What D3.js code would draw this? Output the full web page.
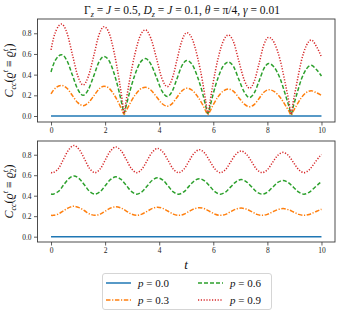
<!DOCTYPE html>
<html><head><meta charset="utf-8">
<script src="https://cdn.jsdelivr.net/npm/d3@7"></script>
<style>body{margin:0;background:#fff} text{font-family:"Liberation Serif","DejaVu Serif",serif}</style>
</head><body><svg id="c" width="342" height="316"></svg>
<script>
const seriesLabels = ["0.0", "0.3", "0.6", "0.9"];
const xTicks = [0, 2, 4, 6, 8, 10];
const yTicks = [0, 0.2, 0.4, 0.6, 0.8];

// flat p = 0 series
const tFlat = [0, 10];
const flatP00 = [0, 0];

// top panel (rho_1)
const tTop = [0, 0.1, 0.2, 0.39, 0.59, 0.79, 0.99, 1.19, 1.38, 1.58, 1.77, 1.96, 2.15, 2.33, 2.52, 2.63, 2.70, 2.78, 2.90, 3.10, 3.29, 3.49, 3.69, 3.90, 4.10, 4.30, 4.48, 4.66, 4.84, 5.02, 5.22, 5.41, 5.61, 5.72, 5.80, 5.88, 5.99, 6.18, 6.37, 6.56, 6.76, 6.95, 7.15, 7.34, 7.52, 7.70, 7.87, 8.05, 8.26, 8.47, 8.67, 8.80, 8.88, 8.95, 9.07, 9.25, 9.44, 9.62, 9.81, 10];
const topP03 = [0.213, 0.253, 0.278, 0.296, 0.268, 0.198, 0.129, 0.100, 0.128, 0.194, 0.260, 0.288, 0.267, 0.206, 0.116, 0.053, 0.015, 0.051, 0.112, 0.199, 0.257, 0.278, 0.251, 0.186, 0.121, 0.095, 0.120, 0.182, 0.243, 0.269, 0.249, 0.192, 0.107, 0.048, 0.012, 0.047, 0.105, 0.187, 0.242, 0.261, 0.236, 0.175, 0.115, 0.089, 0.113, 0.172, 0.230, 0.254, 0.235, 0.181, 0.101, 0.045, 0.010, 0.043, 0.098, 0.175, 0.227, 0.245, 0.225, 0.200];
const topP06 = [0.426, 0.506, 0.555, 0.593, 0.535, 0.396, 0.257, 0.200, 0.255, 0.388, 0.521, 0.576, 0.533, 0.413, 0.232, 0.105, 0.030, 0.102, 0.224, 0.398, 0.514, 0.555, 0.502, 0.372, 0.242, 0.189, 0.240, 0.363, 0.486, 0.537, 0.497, 0.384, 0.215, 0.097, 0.025, 0.094, 0.209, 0.373, 0.484, 0.522, 0.472, 0.350, 0.229, 0.179, 0.227, 0.343, 0.459, 0.507, 0.469, 0.362, 0.202, 0.089, 0.020, 0.086, 0.195, 0.350, 0.454, 0.490, 0.450, 0.387];
const topP09 = [0.639, 0.759, 0.833, 0.889, 0.803, 0.594, 0.386, 0.300, 0.383, 0.582, 0.781, 0.864, 0.800, 0.619, 0.347, 0.158, 0.027, 0.153, 0.336, 0.597, 0.771, 0.833, 0.752, 0.558, 0.364, 0.284, 0.360, 0.545, 0.729, 0.806, 0.746, 0.576, 0.322, 0.145, 0.023, 0.141, 0.314, 0.560, 0.725, 0.783, 0.708, 0.526, 0.344, 0.268, 0.340, 0.515, 0.689, 0.761, 0.704, 0.543, 0.302, 0.134, 0.018, 0.130, 0.293, 0.526, 0.680, 0.735, 0.675, 0.570];

// bottom panel (rho_2)
const tBot = [0, 0.08, 0.27, 0.465, 0.66, 0.85, 1.04, 1.24, 1.43, 1.625, 1.82, 2.01, 2.205, 2.40, 2.59, 2.785, 2.98, 3.17, 3.36, 3.555, 3.75, 3.94, 4.135, 4.33, 4.52, 4.715, 4.91, 5.10, 5.295, 5.49, 5.68, 5.875, 6.07, 6.26, 6.455, 6.645, 6.84, 7.03, 7.225, 7.42, 7.61, 7.805, 8.0, 8.19, 8.385, 8.58, 8.77, 8.965, 9.16, 9.35, 9.545, 9.74, 9.93, 10];
const botP03 = [0.208, 0.208, 0.221, 0.253, 0.284, 0.297, 0.284, 0.253, 0.221, 0.208, 0.220, 0.250, 0.280, 0.292, 0.280, 0.250, 0.220, 0.208, 0.220, 0.248, 0.276, 0.288, 0.276, 0.248, 0.220, 0.208, 0.219, 0.246, 0.272, 0.283, 0.272, 0.246, 0.219, 0.208, 0.218, 0.244, 0.269, 0.279, 0.269, 0.244, 0.218, 0.208, 0.218, 0.241, 0.264, 0.274, 0.264, 0.241, 0.218, 0.208, 0.217, 0.239, 0.261, 0.268];
const botP06 = [0.416, 0.415, 0.441, 0.504, 0.567, 0.593, 0.567, 0.504, 0.441, 0.415, 0.440, 0.500, 0.559, 0.584, 0.559, 0.500, 0.440, 0.415, 0.438, 0.495, 0.552, 0.575, 0.552, 0.495, 0.438, 0.415, 0.437, 0.491, 0.544, 0.566, 0.544, 0.491, 0.437, 0.415, 0.436, 0.486, 0.536, 0.557, 0.536, 0.486, 0.436, 0.415, 0.435, 0.482, 0.529, 0.549, 0.529, 0.482, 0.435, 0.415, 0.433, 0.478, 0.522, 0.535];
const botP09 = [0.627, 0.625, 0.664, 0.758, 0.851, 0.890, 0.851, 0.758, 0.664, 0.625, 0.662, 0.751, 0.839, 0.876, 0.839, 0.751, 0.662, 0.625, 0.660, 0.744, 0.827, 0.862, 0.827, 0.744, 0.660, 0.625, 0.658, 0.737, 0.816, 0.849, 0.816, 0.737, 0.658, 0.625, 0.656, 0.731, 0.805, 0.836, 0.805, 0.731, 0.656, 0.625, 0.654, 0.724, 0.794, 0.823, 0.794, 0.724, 0.654, 0.625, 0.652, 0.718, 0.783, 0.803];

const colors = ["#1f77b4", "#ff7f0e", "#2ca02c", "#d62728"];
const dashes = [null, "4.5,1.6,1.2,1.6", "4,2", "1.2,1.6"];

const svg = d3.select("#c");
const x = d3.scaleLinear().domain([-0.5, 10.5]).range([37.5, 335]);

function panel(y0, y1, yDomain, tArr, series, curve, subIdx) {
  const y = d3.scaleLinear().domain(yDomain).range([y1, y0]);
  const g = svg.append("g");
  const line = d3.line().x(d => x(d[0])).y(d => y(d[1])).curve(curve);
  const all = [[tFlat, flatP00]].concat(series.map(s => [tArr, s]));
  all.forEach((s, i) => {
    const pts = s[0].map((t, k) => [t, s[1][k]]);
    g.append("path").attr("d", line(pts)).attr("fill", "none")
      .attr("stroke", colors[i]).attr("stroke-width", 1.5)
      .attr("stroke-dasharray", dashes[i]);
  });
  const xa = g.append("g").attr("transform", `translate(0,${y1})`)
    .call(d3.axisBottom(x).tickValues(xTicks).tickFormat(d3.format("d")).tickSize(3.5).tickPadding(2));
  const ya = g.append("g").attr("transform", `translate(${x.range()[0]},0)`)
    .call(d3.axisLeft(y).tickValues(yTicks).tickFormat(d3.format(".1f")).tickSize(3.5).tickPadding(2.5));
  [xa, ya].forEach(a => {
    a.select(".domain").remove();
    a.selectAll("line").attr("stroke", "#333").attr("stroke-width", 0.8);
    a.selectAll("text").attr("font-size", 7.5).attr("fill", "#222")
      .attr("font-family", "Liberation Serif, DejaVu Serif, serif");
  });
  g.append("rect").attr("x", x.range()[0]).attr("y", y0)
    .attr("width", x.range()[1] - x.range()[0]).attr("height", y1 - y0)
    .attr("fill", "none").attr("stroke", "#3a3a3a").attr("stroke-width", 0.9);
  // y label
  const lab = g.append("text")
    .attr("transform", `translate(13,${(y0 + y1) / 2}) rotate(-90)`)
    .attr("text-anchor", "middle").attr("font-size", 12).attr("fill", "#111");
  lab.append("tspan").attr("font-style", "italic").text("C");
  lab.append("tspan").attr("font-style", "italic").attr("font-size", 8).attr("dy", 3).text("cc");
  lab.append("tspan").attr("dy", -3).text("(");
  lab.append("tspan").attr("font-style", "italic").text("ϱ");
  lab.append("tspan").attr("font-style", "italic").attr("font-size", 8).attr("dy", -5).text("t");
  lab.append("tspan").attr("dy", 5).text(" ≡ ");
  lab.append("tspan").attr("font-style", "italic").text("ϱ");
  lab.append("tspan").attr("font-style", "italic").attr("font-size", 8).attr("dy", -5).text("t");
  lab.append("tspan").attr("font-size", 8).attr("dx", -2.5).attr("dy", 8).text(subIdx);
  lab.append("tspan").attr("dy", -3).text(")");
}

panel(19, 122, [-0.058, 0.938], tTop, [topP03, topP06, topP09], d3.curveMonotoneX, "1");
panel(141, 242, [-0.052, 0.934], tBot, [botP03, botP06, botP09], d3.curveCatmullRom, "2");

// title
const title = svg.append("text").attr("x", 182).attr("y", 14).attr("text-anchor", "middle")
  .attr("font-size", 11.5).attr("fill", "#111");
const tparts = [["Γ", 0, null], ["z", 1, "i"], [" = ", -1, null], ["J", 0, "i"], [" = 0.5, ", 0, null],
  ["D", 0, "i"], ["z", 1, "i"], [" = ", -1, null], ["J", 0, "i"], [" = 0.1, ", 0, null],
  ["θ", 0, "i"], [" = π/4, ", 0, null], ["γ", 0, "i"], [" = 0.01", 0, null]];
tparts.forEach(p => {
  const ts = title.append("tspan").text(p[0]);
  if (p[2] === "i") ts.attr("font-style", "italic");
  if (p[1] === 1) ts.attr("font-size", 8).attr("dy", 2.5);
  if (p[1] === -1) ts.attr("dy", -2.5);
});

// x label
svg.append("text").attr("x", 186).attr("y", 269).attr("text-anchor", "middle")
  .attr("font-size", 13).attr("font-style", "italic").attr("fill", "#111").text("t");

// legend
const lg = svg.append("g");
lg.append("rect").attr("x", 102.5).attr("y", 273.5).attr("width", 169).attr("height", 36)
  .attr("rx", 2.5).attr("fill", "#fff").attr("stroke", "#d0d0d0").attr("stroke-width", 0.9);
const pos = [[106, 283], [106, 300], [198, 283], [198, 300]];
seriesLabels.forEach((s, i) => {
  const [lx, ly] = pos[i];
  lg.append("line").attr("x1", lx).attr("x2", lx + 25).attr("y1", ly).attr("y2", ly)
    .attr("stroke", colors[i]).attr("stroke-width", 1.5).attr("stroke-dasharray", dashes[i]);
  const t = lg.append("text").attr("x", lx + 32).attr("y", ly + 3.5).attr("font-size", 11).attr("fill", "#111");
  t.append("tspan").attr("font-style", "italic").text("p");
  t.append("tspan").text(" = " + s);
});
</script></body></html>
